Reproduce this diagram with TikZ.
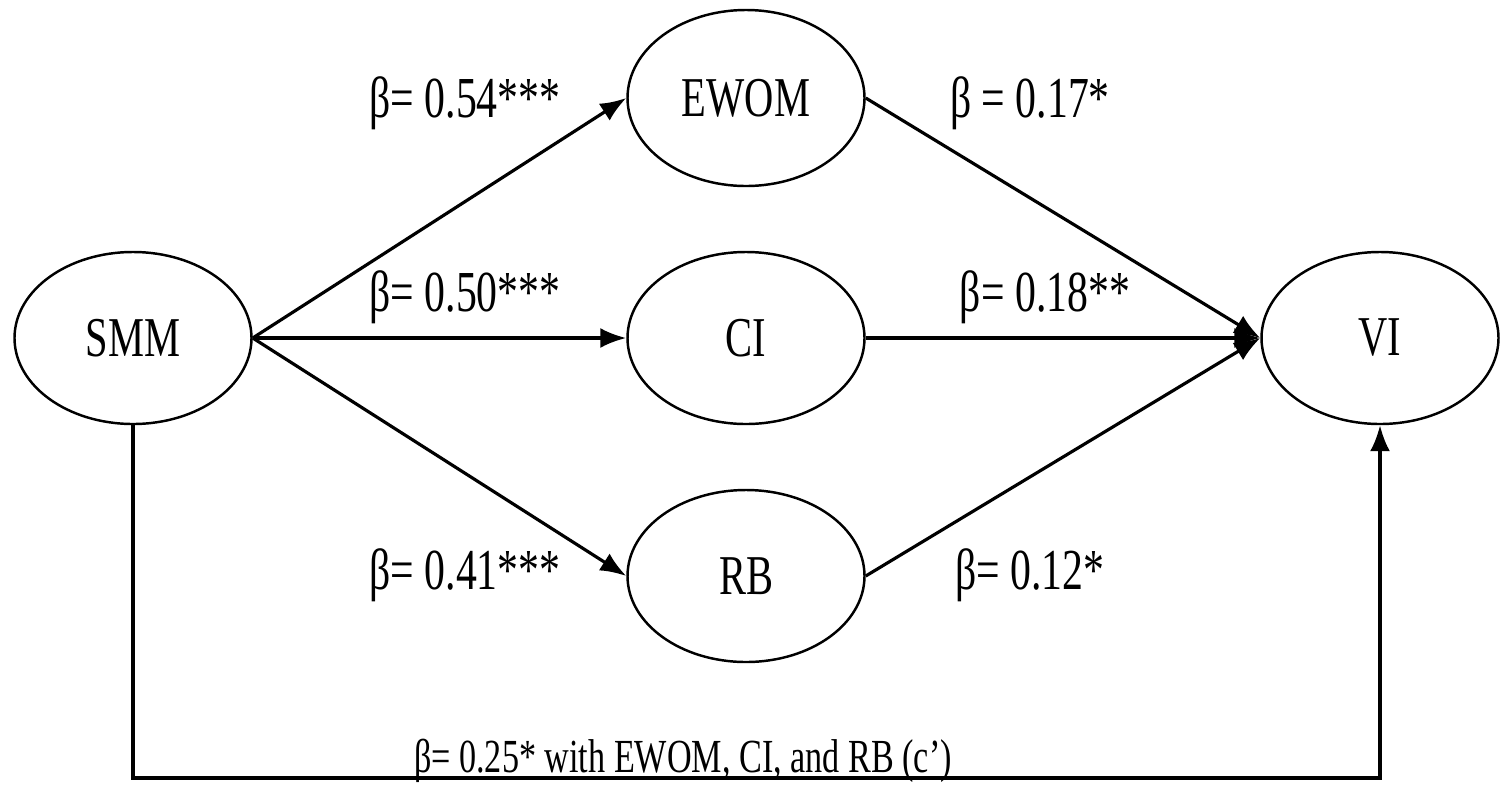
\documentclass[tikz,border=0pt]{standalone}
\usepackage{fontspec}
\setmainfont[FakeStretch=0.72]{Liberation Serif}
\usetikzlibrary{arrows.meta,shapes.geometric}
\tikzset{
  latent/.style={draw, ellipse, line width=0.7pt, minimum width=2.37cm, minimum height=1.72cm, inner sep=0pt, font=\fontsize{16}{18}\selectfont},
  link/.style={-{Latex[length=2.6mm,width=2mm]}, line width=0.9pt},
  coef/.style={font=\fontsize{16.5}{18}\selectfont}
}
\begin{document}
\begin{tikzpicture}
    \useasboundingbox (0,0) rectangle (15.07,7.84);
    \node (smm) at (1.33,4.46) [latent]{SMM};
    \node (ewom) at (7.46,6.86) [latent, minimum height=1.76cm]{EWOM};
    \node (ci) at (7.46,4.46) [latent]{CI};
    \node (rb) at (7.46,2.08) [latent]{RB};
    \node (vi) at (13.80,4.46) [latent]{VI};
    \draw[link] (smm.east) -- (ewom.west);
    \draw[link] (smm.east) -- (ci.west);
    \draw[link] (smm.east) -- (rb.west);
    \draw[link] (ewom.east) -- (vi.west);
    \draw[link] (ci.east) -- (vi.west);
    \draw[link] (rb.east) -- (vi.west);
    \coordinate (base) at (7,0.06);
    \draw[link] (smm.south) |- (base) -| (vi.south);
    \node (b1) at (4.65,6.81) [coef]{β= 0.54***};
    \node (b2) at (10.30,6.81) [coef]{β = 0.17*};
    \node (b3) at (4.65,4.87) [coef]{β= 0.50***};
    \node (b4) at (10.45,4.87) [coef]{β= 0.18**};
    \node (b5) at (4.65,2.09) [coef]{β= 0.41***};
    \node (b6) at (10.30,2.09) [coef]{β= 0.12*};
    \node (c) at (6.83,0.12) [anchor=base, font=\fontsize{13.5}{15}\selectfont]{β= 0.25* with EWOM, CI, and RB (c')};
\end{tikzpicture}
\end{document}
